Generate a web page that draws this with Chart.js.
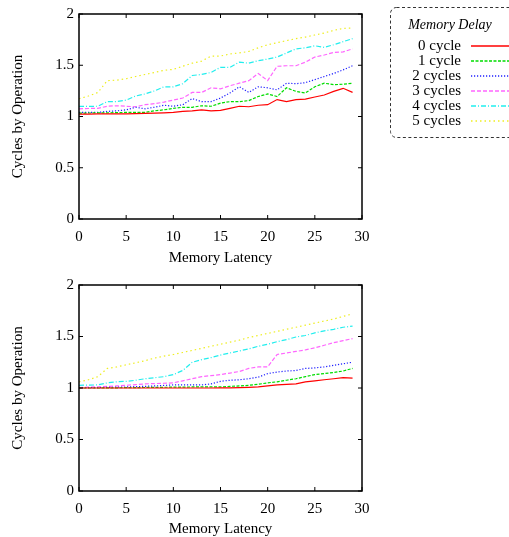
<!DOCTYPE html>
<html>
<head>
<meta charset="utf-8">
<script src="https://cdn.jsdelivr.net/npm/chart.js@4.4.1/dist/chart.umd.min.js"></script>
<style>
  html, body { margin: 0; padding: 0; background: #fff; }
  body { width: 509px; height: 537px; position: relative; overflow: hidden; }
  .box { position: absolute; left: 0; width: 509px; height: 268px; }
</style>
</head>
<body>
<div class="box" style="top:0"><canvas id="top"></canvas></div>
<div class="box" style="top:269px"><canvas id="bottom"></canvas></div>
<script>
// memory latency (x)
const latency = [0, 1, 2, 3, 4, 5, 6, 7, 8, 9, 10, 11, 12, 13, 14, 15, 16, 17, 18, 19, 20, 21, 22, 23, 24, 25, 26, 27, 28, 29];

const seriesNames = ['0 cycle', '1 cycle', '2 cycles', '3 cycles', '4 cycles', '5 cycles'];

const xTickValues = [0, 5, 10, 15, 20, 25, 30];
const xTickLabels = ['0', '5', '10', '15', '20', '25', '30'];
const yTickValues = [0, 0.5, 1, 1.5, 2];
const yTickLabels = ['0', '0.5', '1', '1.5', '2'];

// upper plot
const top0 = [1.023, 1.024, 1.025, 1.025, 1.026, 1.026, 1.028, 1.03, 1.033, 1.036, 1.04, 1.05, 1.055, 1.065, 1.055, 1.06, 1.08, 1.1, 1.095, 1.11, 1.115, 1.165, 1.145, 1.165, 1.17, 1.19, 1.21, 1.245, 1.275, 1.235];
const top1 = [1.033, 1.034, 1.035, 1.036, 1.038, 1.04, 1.04, 1.04, 1.055, 1.065, 1.08, 1.09, 1.09, 1.105, 1.1, 1.13, 1.145, 1.145, 1.155, 1.195, 1.22, 1.195, 1.28, 1.245, 1.23, 1.29, 1.325, 1.31, 1.315, 1.325];
const top2 = [1.04, 1.04, 1.04, 1.05, 1.055, 1.065, 1.09, 1.075, 1.09, 1.11, 1.1, 1.115, 1.175, 1.145, 1.145, 1.18, 1.23, 1.29, 1.235, 1.29, 1.28, 1.26, 1.325, 1.32, 1.33, 1.36, 1.39, 1.42, 1.455, 1.495];
const top3 = [1.075, 1.078, 1.08, 1.1, 1.105, 1.1, 1.095, 1.115, 1.125, 1.14, 1.16, 1.18, 1.235, 1.235, 1.28, 1.27, 1.3, 1.325, 1.35, 1.42, 1.35, 1.49, 1.495, 1.495, 1.53, 1.58, 1.6, 1.625, 1.63, 1.66];
const top4 = [1.098, 1.099, 1.1, 1.146, 1.146, 1.16, 1.2, 1.22, 1.25, 1.29, 1.29, 1.32, 1.4, 1.41, 1.43, 1.48, 1.48, 1.53, 1.52, 1.545, 1.56, 1.58, 1.62, 1.66, 1.67, 1.69, 1.675, 1.7, 1.73, 1.76];
const top5 = [1.173, 1.2, 1.234, 1.35, 1.355, 1.368, 1.39, 1.41, 1.43, 1.45, 1.46, 1.49, 1.52, 1.54, 1.59, 1.59, 1.61, 1.62, 1.635, 1.67, 1.7, 1.72, 1.74, 1.76, 1.775, 1.795, 1.815, 1.84, 1.86, 1.863];

// lower plot
const bot0 = [1.0, 1.0, 1.0, 1.0, 1.0, 1.0, 1.0, 1.0, 1.0, 1.0, 1.0, 1.0, 1.0, 1.0, 1.0, 1.001, 1.002, 1.003, 1.006, 1.01, 1.02, 1.03, 1.036, 1.04, 1.06, 1.07, 1.08, 1.09, 1.1, 1.095];
const bot1 = [1.0, 1.0, 1.0, 1.001, 1.002, 1.003, 1.004, 1.005, 1.006, 1.007, 1.008, 1.009, 1.01, 1.01, 1.01, 1.01, 1.016, 1.02, 1.026, 1.036, 1.05, 1.06, 1.075, 1.09, 1.11, 1.13, 1.14, 1.15, 1.165, 1.19];
const bot2 = [1.002, 1.003, 1.004, 1.006, 1.008, 1.01, 1.013, 1.016, 1.02, 1.025, 1.03, 1.03, 1.03, 1.03, 1.04, 1.065, 1.075, 1.08, 1.09, 1.105, 1.14, 1.155, 1.165, 1.17, 1.19, 1.195, 1.205, 1.22, 1.235, 1.25];
const bot3 = [1.005, 1.008, 1.012, 1.016, 1.02, 1.026, 1.033, 1.04, 1.043, 1.046, 1.05, 1.07, 1.09, 1.11, 1.12, 1.13, 1.145, 1.16, 1.19, 1.205, 1.205, 1.325, 1.34, 1.355, 1.37, 1.39, 1.415, 1.44, 1.46, 1.48];
const bot4 = [1.026, 1.028, 1.03, 1.05, 1.06, 1.065, 1.075, 1.09, 1.1, 1.11, 1.13, 1.17, 1.25, 1.275, 1.295, 1.32, 1.34, 1.36, 1.38, 1.405, 1.425, 1.45, 1.47, 1.495, 1.51, 1.535, 1.555, 1.57, 1.59, 1.6];
const bot5 = [1.06, 1.08, 1.11, 1.19, 1.205, 1.225, 1.245, 1.265, 1.29, 1.31, 1.325, 1.345, 1.365, 1.385, 1.405, 1.425, 1.445, 1.465, 1.49, 1.51, 1.53, 1.55, 1.57, 1.59, 1.61, 1.63, 1.65, 1.67, 1.695, 1.72];

const lineColors = ['#ff0000', '#00dd00', '#2020ff', '#ff66ff', '#22eeee', '#eeee22'];
const lineDashes = [[], [3, 1.5], [1.2, 1.8], [4, 2], [5, 2, 1, 2], [1.5, 3]];

const serif = '"Liberation Serif", "DejaVu Serif", serif';

function makeSets(arrays) {
  return arrays.map((vals, i) => ({
    label: seriesNames[i],
    data: latency.map((x, j) => ({ x: x, y: vals[j] })),
    borderColor: lineColors[i],
    borderWidth: 1.2,
    borderDash: lineDashes[i],
    pointRadius: 0,
    fill: false,
    tension: 0
  }));
}

// box round the plot with inward ticks on all four sides, gnuplot style
const framePlugin = {
  id: 'frame',
  afterDraw(chart) {
    const { ctx, chartArea: a, scales } = chart;
    ctx.save();
    ctx.strokeStyle = '#000';
    ctx.lineWidth = 1.5;
    ctx.setLineDash([]);
    ctx.strokeRect(a.left, a.top, a.right - a.left, a.bottom - a.top);
    ctx.lineWidth = 1;
    ctx.beginPath();
    xTickValues.forEach(v => {
      const px = scales.x.getPixelForValue(v);
      ctx.moveTo(px, a.bottom); ctx.lineTo(px, a.bottom - 4);
      ctx.moveTo(px, a.top); ctx.lineTo(px, a.top + 4);
    });
    yTickValues.forEach(v => {
      const py = scales.y.getPixelForValue(v);
      ctx.moveTo(a.left, py); ctx.lineTo(a.left + 4, py);
      ctx.moveTo(a.right, py); ctx.lineTo(a.right - 4, py);
    });
    ctx.stroke();
    ctx.restore();
  }
};

// the key in the upper right corner
const keyPlugin = {
  id: 'key',
  afterDraw(chart, args, opts) {
    if (!opts.show) return;
    const ctx = chart.ctx;
    ctx.save();
    // dashed rounded box, cut by the right edge
    ctx.strokeStyle = '#333';
    ctx.lineWidth = 1;
    ctx.setLineDash([3, 2.5]);
    ctx.beginPath();
    ctx.roundRect(390.5, 7.5, 130, 130, 6);
    ctx.stroke();

    ctx.setLineDash([]);
    ctx.fillStyle = '#000';
    ctx.textBaseline = 'middle';
    ctx.textAlign = 'center';
    ctx.font = 'italic 14px ' + serif;
    ctx.fillText('Memory Delay', 450, 25);

    ctx.font = '15px ' + serif;
    ctx.textAlign = 'right';
    seriesNames.forEach((name, i) => {
      const y = 46 + i * 15;
      ctx.fillStyle = '#000';
      ctx.fillText(name, 461, y);
      ctx.strokeStyle = lineColors[i];
      ctx.lineWidth = 1.5;
      ctx.setLineDash(lineDashes[i]);
      ctx.beginPath();
      ctx.moveTo(471, y);
      ctx.lineTo(512, y);
      ctx.stroke();
    });
    ctx.restore();
  }
};

function makeChart(id, arrays, padTop, axisH, titleGap, showKey) {
  return new Chart(document.getElementById(id), {
    type: 'line',
    data: { datasets: makeSets(arrays) },
    plugins: [framePlugin, keyPlugin],
    options: {
      responsive: true,
      maintainAspectRatio: false,
      animation: false,
      layout: { padding: { top: padTop, right: 147, bottom: 0, left: 0 } },
      plugins: {
        legend: { display: false },
        tooltip: { enabled: false },
        key: { show: showKey }
      },
      scales: {
        x: {
          type: 'linear',
          min: 0,
          max: 30,
          afterBuildTicks: s => { s.ticks = xTickValues.map(v => ({ value: v })); },
          afterFit: s => { s.height = axisH; },
          grid: { display: false, drawTicks: false },
          border: { display: false },
          ticks: {
            color: '#000',
            font: { family: serif, size: 15 },
            padding: 9,
            maxRotation: 0,
            callback: v => xTickLabels[xTickValues.indexOf(v)]
          },
          title: {
            display: true,
            text: 'Memory Latency',
            color: '#000',
            font: { family: serif, size: 15 },
            padding: { top: 0, bottom: titleGap }
          }
        },
        y: {
          min: 0,
          max: 2,
          afterBuildTicks: s => { s.ticks = yTickValues.map(v => ({ value: v })); },
          afterFit: s => { s.width = 79; },
          grid: { display: false, drawTicks: false },
          border: { display: false },
          ticks: {
            color: '#000',
            font: { family: serif, size: 15 },
            padding: 5,
            callback: v => yTickLabels[yTickValues.indexOf(v)]
          },
          title: {
            display: true,
            text: 'Cycles by Operation',
            color: '#000',
            font: { family: serif, size: 15 },
            padding: { top: 9, bottom: 0 }
          }
        }
      }
    }
  });
}

makeChart('top', [top0, top1, top2, top3, top4, top5], 14, 49, 1, true);
makeChart('bottom', [bot0, bot1, bot2, bot3, bot4, bot5], 16, 46, -1, false);
</script>
</body>
</html>
